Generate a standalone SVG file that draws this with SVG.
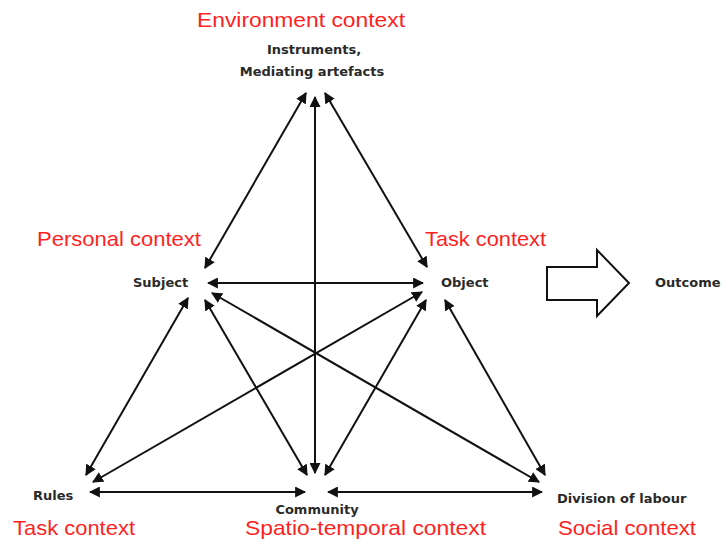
<svg xmlns="http://www.w3.org/2000/svg" width="723" height="543" viewBox="0 0 723 543">
<style>
.ctx{font-family:"Liberation Sans",Arial,sans-serif;font-size:21px;fill:#ff1f1f}
.lbl{font-family:"DejaVu Sans",Verdana,sans-serif;font-size:13px;font-weight:bold;fill:#2a2a2a}
.c{stroke:#111;stroke-width:2;fill:none;marker-start:url(#ah);marker-end:url(#ah)}
</style>
<defs>
<marker id="ah" viewBox="0 0 10 10" refX="9" refY="5" markerWidth="5.5" markerHeight="5.5" orient="auto-start-reverse" markerUnits="strokeWidth">
<path d="M0,0 L10,5 L0,10 z" fill="#111"/>
</marker>
</defs>
<rect width="723" height="543" fill="#fff"/>
<g id="connectors">
<line class="c" x1="306" y1="93" x2="205" y2="268"/>
<line class="c" x1="315" y1="97" x2="315" y2="473"/>
<line class="c" x1="325" y1="93" x2="427" y2="267"/>
<line class="c" x1="208" y1="283" x2="423" y2="283"/>
<line class="c" x1="188" y1="298" x2="86" y2="475"/>
<line class="c" x1="205" y1="300" x2="307" y2="475"/>
<line class="c" x1="212" y1="293" x2="539" y2="482"/>
<line class="c" x1="422" y1="292" x2="93" y2="482"/>
<line class="c" x1="426" y1="300" x2="325" y2="475"/>
<line class="c" x1="445" y1="300" x2="545" y2="475"/>
<line class="c" x1="90" y1="492" x2="305" y2="492"/>
<line class="c" x1="328" y1="492" x2="542" y2="492"/>
</g>
<g id="instruments">
<text class="ctx" x="197" y="27" textLength="208" lengthAdjust="spacingAndGlyphs">Environment context</text>
<text class="lbl" x="314" y="54" text-anchor="middle">Instruments,</text>
<text class="lbl" x="312" y="76" text-anchor="middle">Mediating artefacts</text>
</g>
<g id="subject">
<text class="ctx" x="37" y="246" textLength="164" lengthAdjust="spacingAndGlyphs">Personal context</text>
<text class="lbl" x="133" y="287">Subject</text>
</g>
<g id="object">
<text class="ctx" x="425" y="246" textLength="121" lengthAdjust="spacingAndGlyphs">Task context</text>
<text class="lbl" x="441" y="287">Object</text>
</g>
<g id="outcome-arrow">
<path d="M547,267 L597,267 L597,250 L629,283 L597,316 L597,300 L547,300 Z" fill="#fff" stroke="#111" stroke-width="2" stroke-linejoin="miter"/>
</g>
<g id="outcome">
<text class="lbl" x="655" y="287">Outcome</text>
</g>
<g id="rules">
<text class="lbl" x="33" y="500">Rules</text>
<text class="ctx" x="13" y="535" textLength="122" lengthAdjust="spacingAndGlyphs">Task context</text>
</g>
<g id="community">
<text class="lbl" x="317" y="514" text-anchor="middle">Community</text>
<text class="ctx" x="245" y="535" textLength="241" lengthAdjust="spacingAndGlyphs">Spatio-temporal context</text>
</g>
<g id="division">
<text class="lbl" x="557" y="503">Division of labour</text>
<text class="ctx" x="558" y="535" textLength="138" lengthAdjust="spacingAndGlyphs">Social context</text>
</g>
</svg>
